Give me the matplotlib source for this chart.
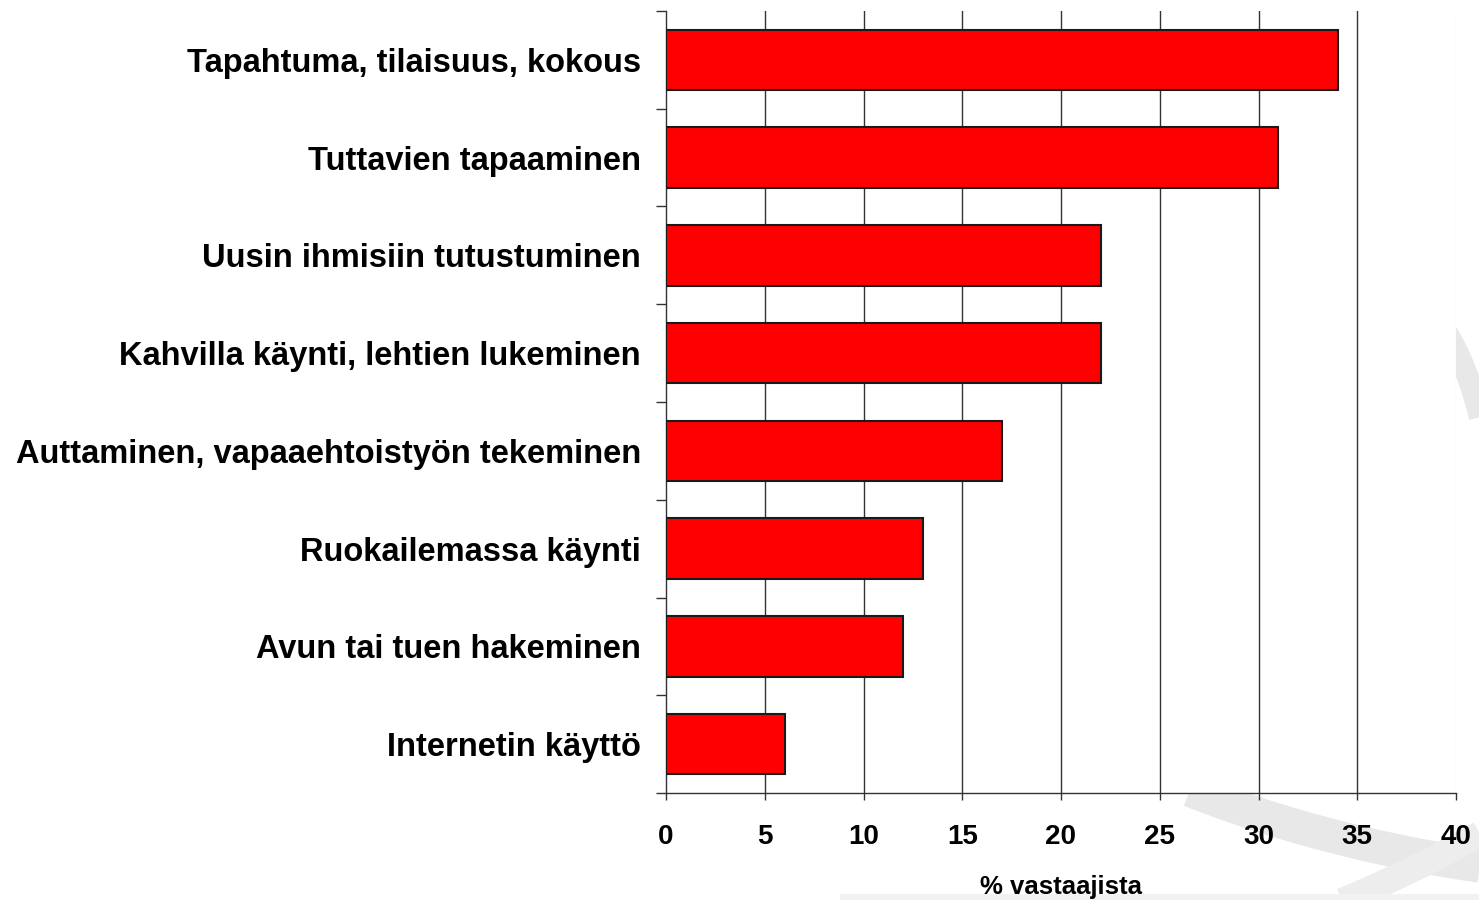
import numpy as np
import matplotlib
matplotlib.use("Agg")
import matplotlib.pyplot as plt
from matplotlib.lines import Line2D

categories = [
    "Tapahtuma, tilaisuus, kokous",
    "Tuttavien tapaaminen",
    "Uusin ihmisiin tutustuminen",
    "Kahvilla käynti, lehtien lukeminen",
    "Auttaminen, vapaaehtoistyön tekeminen",
    "Ruokailemassa käynti",
    "Avun tai tuen hakeminen",
    "Internetin käyttö",
]
values = [34, 31, 22, 22, 17, 13, 12, 6]
xticks = [0, 5, 10, 15, 20, 25, 30, 35, 40]
xlabel = "% vastaajista"

plt.rcParams['font.family'] = ['Liberation Sans', 'DejaVu Sans']
plt.rcParams['font.weight'] = 'bold'

W, H = 1479, 900
fig = plt.figure(figsize=(W / 100, H / 100), dpi=100)
fig.patch.set_facecolor('white')

# decorative grey swoosh in the background
def fig_curve(p0, p1, p2, lw, color='#e8e8e8'):
    t = np.linspace(0, 1, 60)
    x = (1 - t) ** 2 * p0[0] + 2 * (1 - t) * t * p1[0] + t ** 2 * p2[0]
    y = (1 - t) ** 2 * p0[1] + 2 * (1 - t) * t * p1[1] + t ** 2 * p2[1]
    ln = Line2D(x / W, 1 - y / H, transform=fig.transFigure, lw=lw * 0.72,
                color=color, solid_capstyle='butt', zorder=0)
    fig.add_artist(ln)

fig_curve((1430, 310), (1475, 360), (1492, 480), 22)
fig_curve((1190, 790), (1330, 845), (1495, 868), 34)
fig_curve((1320, 910), (1420, 870), (1495, 825), 26, '#ededed')
fig_curve((840, 897), (1100, 897), (1479, 897), 6, '#f2f2f2')

ax = fig.add_axes([666 / W, 1 - 793 / H, (1456 - 666) / W, (793 - 11) / H])
ax.set_facecolor('white')
ax.set_zorder(1)

n = len(categories)
ypos = np.arange(n)
ax.barh(ypos, values, height=0.62, color='#ff0000', edgecolor='#1a1a1a',
        linewidth=1.5, zorder=3)

ax.set_xlim(0, 40)
ax.set_ylim(n - 0.5, -0.5)
ax.set_xticks(xticks)
ax.set_xticklabels([str(v) for v in xticks], fontsize=20, fontweight='bold')

ax.set_yticks(ypos)
ax.set_yticklabels(categories, fontsize=23.5, fontweight='bold')
ax.tick_params(axis='y', which='major', length=0, pad=18)
ax.set_yticks(np.arange(n + 1) - 0.5, minor=True)
ax.tick_params(axis='y', which='minor', length=7, width=1, color='#333333', direction='out')
ax.tick_params(axis='x', length=5, width=1, color='#333333', direction='out', pad=17)

for v in xticks[1:-1]:
    ax.axvline(v, color='#333333', lw=1, zorder=1)
ax.axvline(40, color='#f0f0f0', lw=1, zorder=1)

for s in ['top', 'right']:
    ax.spines[s].set_visible(False)
ax.spines['left'].set_color('#333333')
ax.spines['bottom'].set_color('#333333')
ax.spines['left'].set_linewidth(1)
ax.spines['bottom'].set_linewidth(1)

ax.set_xlabel(xlabel, fontsize=18.5, fontweight='bold', labelpad=18)

fig.savefig('out.png', dpi=100, facecolor='white')
